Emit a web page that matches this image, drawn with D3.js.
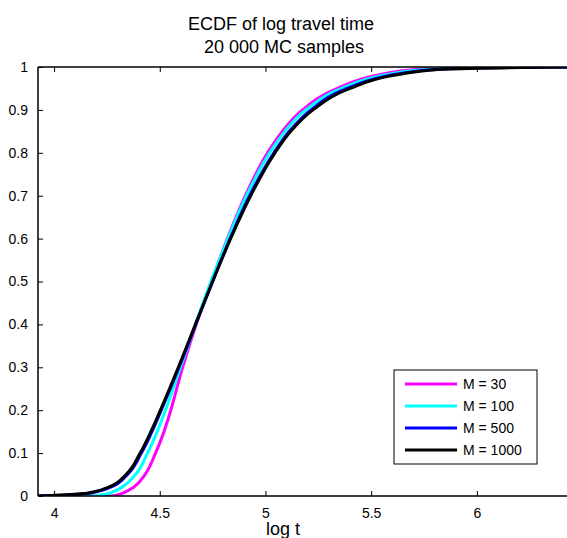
<!DOCTYPE html>
<html>
<head>
<meta charset="utf-8">
<script src="https://cdn.jsdelivr.net/npm/d3@7"></script>
<style>
  body { margin: 0; background: #fff; }
  svg { font-family: 'Liberation Sans', Arial, sans-serif; }
</style>
</head>
<body>
<div id="chart"></div>
<script>
// cumulative probability levels shared by all curves
const probs = [0, 0.005, 0.01, 0.02, 0.05, 0.1, 0.15, 0.2, 0.3, 0.4, 0.5, 0.6, 0.7, 0.8, 0.85, 0.9, 0.95, 0.98, 0.99, 0.995, 1]

// log t at each probability level, one array per M
const m30 = [4.27, 4.315, 4.34, 4.375, 4.43, 4.48, 4.52, 4.552, 4.608, 4.672, 4.745, 4.82, 4.905, 5.01, 5.08, 5.175, 5.34, 5.52, 5.63, 5.72, 5.92]
const m100 = [4.18, 4.25, 4.28, 4.32, 4.385, 4.442, 4.488, 4.527, 4.598, 4.668, 4.742, 4.822, 4.91, 5.02, 5.092, 5.19, 5.36, 5.55, 5.67, 5.77, 6.0]
const m500 = [3.93, 4.14, 4.20, 4.265, 4.347, 4.413, 4.463, 4.507, 4.591, 4.67, 4.75, 4.833, 4.925, 5.04, 5.113, 5.215, 5.385, 5.585, 5.71, 5.82, 6.35]
const m1000 = [3.93, 4.13, 4.19, 4.255, 4.34, 4.407, 4.458, 4.503, 4.588, 4.669, 4.75, 4.835, 4.93, 5.045, 5.12, 5.225, 5.40, 5.60, 5.73, 5.84, 6.45]

const seriesNames = ['M = 30', 'M = 100', 'M = 500', 'M = 1000']
const seriesColors = ['#ff00ff', '#00ffff', '#0000ff', '#000000']
const seriesValues = [m30, m100, m500, m1000]

const xTicks = [4, 4.5, 5, 5.5, 6]
const yTicks = [0, 0.1, 0.2, 0.3, 0.4, 0.5, 0.6, 0.7, 0.8, 0.9, 1]

const WIDTH = 567
const HEIGHT = 538
const margin = {top: 67, left: 38, bottom: 42}
const plotW = 560
const plotH = HEIGHT - margin.top - margin.bottom

const x = d3.scaleLinear().domain([3.924, 3.924 + plotW / 211.4]).range([0, plotW])
const y = d3.scaleLinear().domain([0, 1]).range([plotH, 0])

const svg = d3.select('#chart')
  .append('svg')
  .attr('width', WIDTH)
  .attr('height', HEIGHT)

const g = svg.append('g')
  .attr('transform', 'translate(' + margin.left + ',' + margin.top + ')')

svg.append('defs').append('clipPath')
  .attr('id', 'clip')
  .append('rect')
  .attr('width', plotW)
  .attr('height', plotH)

// curves
const line = d3.line()
  .x(d => x(d[0]))
  .y(d => y(d[1]))
  .curve(d3.curveMonotoneY)

const curves = g.append('g').attr('clip-path', 'url(#clip)')
seriesValues.forEach((vals, i) => {
  const pts = vals.map((v, j) => [v, probs[j]])
  // flat parts before the first and after the last sample
  pts.unshift([x.domain()[0] - 1, 0])
  pts.push([x.domain()[1] + 1, 1])
  curves.append('path')
    .datum(pts)
    .attr('fill', 'none')
    .attr('stroke', seriesColors[i])
    .attr('stroke-width', 3)
    .attr('stroke-linejoin', 'round')
    .attr('d', line)
})

// axes, matlab style: box with inward ticks
function styleAxis (sel) {
  sel.select('.domain').remove()
  sel.selectAll('.tick line').attr('stroke', '#000')
  sel.selectAll('.tick text').attr('fill', '#000').style('font-size', '14px')
}

g.append('g')
  .attr('transform', 'translate(0,' + plotH + ')')
  .call(d3.axisBottom(x).tickValues(xTicks).tickSize(-5).tickPadding(12).tickFormat(d3.format('')))
  .call(styleAxis)

g.append('g')
  .call(d3.axisTop(x).tickValues(xTicks).tickSize(-5).tickFormat(''))
  .call(styleAxis)

g.append('g')
  .call(d3.axisLeft(y).tickValues(yTicks).tickSize(-5).tickPadding(10).tickFormat(d3.format('')))
  .call(styleAxis)

g.append('line').attr('x1', 0).attr('x2', plotW).attr('y1', plotH).attr('y2', plotH).attr('stroke', '#000').attr('stroke-width', 1.5)
g.append('line').attr('x1', 0).attr('x2', plotW).attr('y1', 0).attr('y2', 0).attr('stroke', '#000').attr('stroke-width', 1.5)
g.append('line').attr('x1', 0).attr('x2', 0).attr('y1', 0).attr('y2', plotH).attr('stroke', '#000').attr('stroke-width', 1.5)

// titles
svg.append('text')
  .attr('x', 281).attr('y', 30)
  .attr('text-anchor', 'middle')
  .style('font-size', '18px')
  .text('ECDF of log travel time')

svg.append('text')
  .attr('x', 284).attr('y', 53)
  .attr('text-anchor', 'middle')
  .style('font-size', '18px')
  .text('20 000 MC samples')

svg.append('text')
  .attr('x', 283).attr('y', 535)
  .attr('text-anchor', 'middle')
  .style('font-size', '18px')
  .text('log t')

// legend
const legend = svg.append('g').attr('transform', 'translate(394,370)')
legend.append('rect')
  .attr('width', 143)
  .attr('height', 94)
  .attr('fill', '#fff')
  .attr('stroke', '#000')
  .attr('stroke-width', 1)

seriesNames.forEach((name, i) => {
  const ly = 14 + i * 22
  legend.append('line')
    .attr('x1', 11).attr('x2', 63)
    .attr('y1', ly).attr('y2', ly)
    .attr('stroke', seriesColors[i])
    .attr('stroke-width', 3)
  legend.append('text')
    .attr('x', 69).attr('y', ly + 5)
    .style('font-size', '14px')
    .text(name)
})
</script>
</body>
</html>
